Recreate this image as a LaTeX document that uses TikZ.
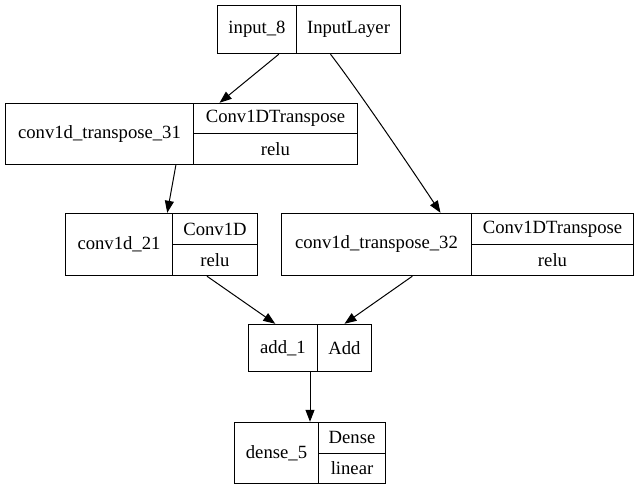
\documentclass[tikz,border=0pt]{standalone}
\usepackage{fontspec}
\setmainfont{Liberation Serif}
\usetikzlibrary{arrows.meta,fit,calc}
\begin{document}
\begin{tikzpicture}[x=1pt,y=-1pt,
  cell/.style={draw, line width=1pt, anchor=north west, inner sep=0pt,
    font=\fontsize{18.67}{22}\selectfont},
  rec/.style={inner sep=0pt, draw=none},
  arr/.style={-{Triangle[length=12pt,width=9pt]}, line width=1pt}]
\useasboundingbox (0,0) rectangle (639,489);

% input_8
\node[cell, minimum width=79pt, minimum height=48pt] (inA) at (217,5) {input\_8};
\node[cell, minimum width=104pt, minimum height=48pt] (inB) at (296,5) {InputLayer};
\node[rec, fit=(inA)(inB)] (input) {};

% conv1d_transpose_31
\node[cell, minimum width=188pt, minimum height=61pt] (taA) at (5,103) {conv1d\_transpose\_31};
\node[cell, minimum width=164pt, minimum height=30.5pt] (taB) at (193,103) {Conv1DTranspose};
\node[cell, minimum width=164pt, minimum height=30.5pt] (taC) at (193,133.5) {relu};
\node[rec, fit=(taA)(taB)(taC)] (ct31) {};

% conv1d_21
\node[cell, minimum width=107pt, minimum height=62pt] (cvA) at (65,213) {conv1d\_21};
\node[cell, minimum width=85pt, minimum height=31pt] (cvB) at (172,213) {Conv1D};
\node[cell, minimum width=85pt, minimum height=31pt] (cvC) at (172,244) {relu};
\node[rec, fit=(cvA)(cvB)(cvC)] (cv21) {};

% conv1d_transpose_32
\node[cell, minimum width=190pt, minimum height=62pt] (tbA) at (281,213) {conv1d\_transpose\_32};
\node[cell, minimum width=162pt, minimum height=31pt] (tbB) at (471,213) {Conv1DTranspose};
\node[cell, minimum width=162pt, minimum height=31pt] (tbC) at (471,244) {relu};
\node[rec, fit=(tbA)(tbB)(tbC)] (ct32) {};

% add_1
\node[cell, minimum width=69pt, minimum height=47pt] (adA) at (248,324) {add\_1};
\node[cell, minimum width=54pt, minimum height=47pt] (adB) at (317,324) {Add};
\node[rec, fit=(adA)(adB)] (add) {};

% dense_5
\node[cell, minimum width=84pt, minimum height=61pt] (dnA) at (234,422) {dense\_5};
\node[cell, minimum width=67pt, minimum height=30.5pt] (dnB) at (318,422) {Dense};
\node[cell, minimum width=67pt, minimum height=30.5pt] (dnC) at (318,452.5) {linear};
\node[rec, fit=(dnA)(dnB)(dnC)] (dense) {};

% edges
\draw[arr] (input) -- (ct31);
\draw[arr] ($(input.south)+(21.5,0)$) .. controls ($(input.south)+(48.5,35)$) and ($(ct32.north)+(-40,-35)$) .. ($(ct32.north)+(-17,0)$);
\draw[arr] (ct31) -- (cv21);
\draw[arr] (cv21) -- (add);
\draw[arr] (ct32) -- (add);
\draw[arr] (add) -- (dense);
\end{tikzpicture}
\end{document}
